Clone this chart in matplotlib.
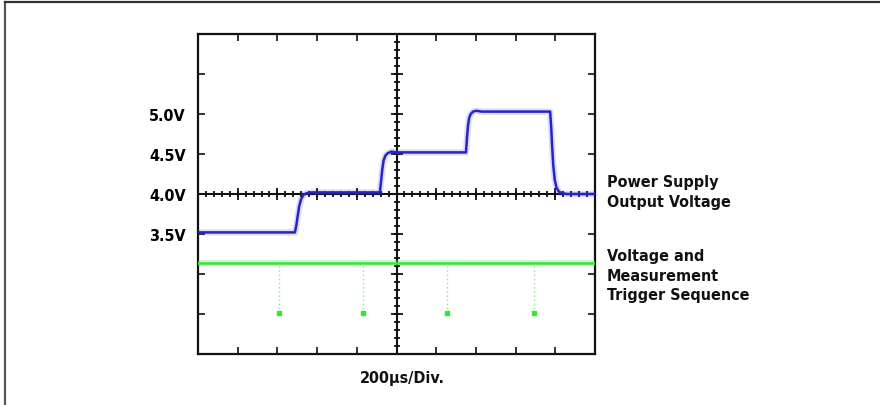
import numpy as np
import matplotlib
matplotlib.use("Agg")
import matplotlib.pyplot as plt
from matplotlib.lines import Line2D

# power supply output voltage trace (time in us, volts)
blue_t = [0, 488, 495, 502, 510, 520, 532, 548, 570, 916,
          922, 928, 935, 944, 956, 975, 1000, 1350,
          1355, 1360, 1366, 1374, 1386, 1402, 1430, 1774,
          1779, 1784, 1790, 1797, 1806, 1818, 1835, 1860, 2000]
blue_v = [3.52, 3.52, 3.60, 3.72, 3.85, 3.94, 3.99, 4.01, 4.02, 4.02,
          4.15, 4.30, 4.42, 4.48, 4.51, 4.53, 4.52, 4.52,
          4.70, 4.85, 4.95, 5.00, 5.03, 5.04, 5.03, 5.03,
          4.85, 4.60, 4.35, 4.18, 4.08, 4.03, 4.01, 4.00, 4.00]

# trigger sequence trace
green_level = 3.135
trigger_times = [410, 832, 1256, 1692]
trigger_low = 2.51

ytick_vals = [2.0, 2.5, 3.0, 3.5, 4.0, 4.5, 5.0, 5.5, 6.0]
ytick_text = ["", "", "", "3.5V", "4.0V", "4.5V", "5.0V", "", ""]

FONT = ["DejaVu Sans"]
W, H = 880, 406


def fx(px):
    return px / W


def fy(py):
    return 1 - py / H


fig = plt.figure(figsize=(8.8, 4.06), dpi=100)
ax = fig.add_axes([fx(198), fy(355), fx(595) - fx(198), fy(35) - fy(355)])
ax.set_xlim(0, 2000)
ax.set_ylim(2.0, 6.0)

for s in ax.spines.values():
    s.set_linewidth(1.6)
    s.set_color("#111111")

ax.set_xticks(np.arange(0, 2001, 200))
ax.set_yticks(ytick_vals)
ax.set_yticklabels(ytick_text, fontfamily=FONT, fontweight="bold", fontsize=11.5,
                   fontstretch="condensed")
ax.tick_params(direction="in", length=5, width=1.2, top=True, right=True,
               labelbottom=False, pad=9, color="#111111")

# centre cross with minor ticks
ax.axhline(4.0, color="#111111", lw=1.5, zorder=2)
ax.axvline(1000, color="#111111", lw=1.5, zorder=2)
mx = np.arange(0, 2001, 40)
my = np.arange(2.0, 6.001, 0.1)
ax.plot(mx, np.full(len(mx), 4.0), ls="none", marker="|", ms=5, mew=1.3, color="#111111", zorder=2)
ax.plot(np.full(len(my), 1000), my, ls="none", marker="_", ms=5, mew=1.3, color="#111111", zorder=2)
Mx = np.arange(0, 2001, 200)
My = np.arange(2.0, 6.001, 0.5)
ax.plot(Mx, np.full(len(Mx), 4.0), ls="none", marker="|", ms=9, mew=1.3, color="#111111", zorder=2)
ax.plot(np.full(len(My), 1000), My, ls="none", marker="_", ms=9, mew=1.3, color="#111111", zorder=2)

# blue output voltage
ax.plot(blue_t, blue_v, color="#3a3ae0", lw=4.5, alpha=0.18, zorder=3)
ax.plot(blue_t, blue_v, color="#2424c8", lw=1.8, zorder=4)

# green trigger sequence
ax.plot([0, 2000], [green_level, green_level], color="#5cf05c", lw=4, alpha=0.35, zorder=3)
ax.plot([0, 2000], [green_level, green_level], color="#33e833", lw=1.8, zorder=4)
ax.vlines(trigger_times, trigger_low, green_level, colors="#7cf07c", linestyles=(0, (1, 2)),
          lw=1.0, zorder=3)
ax.plot(trigger_times, [trigger_low] * len(trigger_times), ls="none", marker="s", ms=2.5,
        color="#33e833", zorder=4)

# labels
txt = dict(fontfamily=FONT, fontweight="bold", fontsize=11.5, fontstretch="condensed",
           color="#111111")
fig.text(fx(607), fy(175), "Power Supply\nOutput Voltage", ha="left", va="top",
         linespacing=1.38, **txt)
fig.text(fx(607), fy(249), "Voltage and\nMeasurement\nTrigger Sequence", ha="left", va="top",
         linespacing=1.38, **txt)
fig.text(fx(402), fy(379), "200\u00b5s/Div.", ha="center", va="center", **txt)

# outer frame (left and top only)
fig.add_artist(Line2D([fx(5), fx(5)], [0, fy(3)], color="#555555", lw=1.6))
fig.add_artist(Line2D([fx(5), 1], [fy(3), fy(3)], color="#333333", lw=1.6))

fig.savefig("out.png", dpi=100)
